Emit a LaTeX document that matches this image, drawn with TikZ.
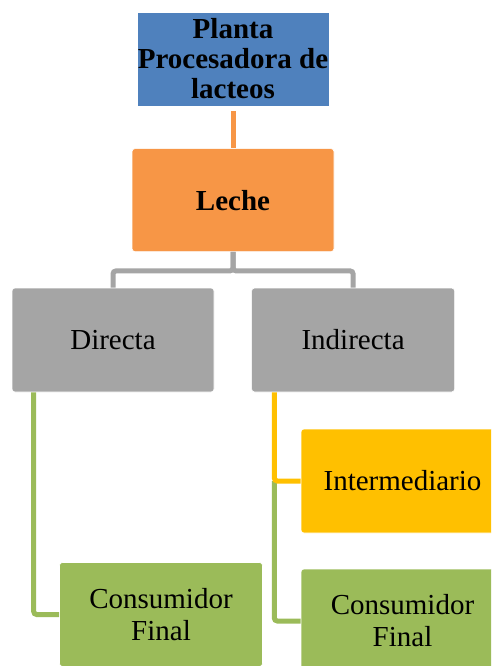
\documentclass[tikz,border=0pt]{standalone}
\usepackage{fontspec}
\setmainfont{Liberation Serif}
\usetikzlibrary{positioning}
\definecolor{azul}{HTML}{4F81BD}
\definecolor{naranja}{HTML}{F79646}
\definecolor{gris}{HTML}{A5A5A5}
\definecolor{amarillo}{HTML}{FFC000}
\definecolor{verde}{HTML}{9BBB59}

\begin{document}
\begin{tikzpicture}[x=1pt, y=1pt, node distance=42pt,
	caja/.style = {draw=white, line width=0.6pt, rounded corners=3pt, inner sep=0pt, align=center, minimum width=203pt, minimum height=104pt, font=\fontsize{29}{32}\selectfont},
	linea/.style = {line width=5pt, rounded corners=3pt}]
	\useasboundingbox (0,0) rectangle (491,-666);
	\clip (0,0) rectangle (491,-666);
	\node[caja, fill=azul, minimum width=192pt, minimum height=94pt, rounded corners=0pt, font=\fontsize{29}{30}\selectfont\bfseries] (planta) at (233,-59) {Planta\\Procesadora de\\lacteos};
	\node[caja, fill=naranja, minimum width=202pt, minimum height=103pt, font=\fontsize{29}{32}\selectfont\bfseries] (leche) [below=of planta] {Leche};
	\node[caja, fill=gris, minimum width=202pt] (directa) at (113,-340) {Directa};
	\node[caja, fill=gris] (indirecta) [right=37pt of directa] {Indirecta};
	\node[caja, fill=amarillo] (inter) at (402.5,-481) {Intermediario};
	\node[caja, fill=verde] (consA) at (161,-614.5) {Consumidor\\Final};
	\node[caja, fill=verde] (consB) at (402.5,-621) {Consumidor\\Final};
	\coordinate (bajaA) at ([xshift=22pt]directa.south west);
	\coordinate (bajaB) at ([xshift=23pt]indirecta.south west);
	\draw[linea, naranja, shorten <=5pt] (planta) -- (leche);
	\draw[linea, gris] (leche.south) -- ++(0,-19) -| (directa.north);
	\draw[linea, gris] (leche.south) -- ++(0,-19) -| (indirecta.north);
	\draw[linea, verde] (bajaA) |- (consA.west);
	\draw[linea, verde] (bajaB |- inter.west) |- (consB.west);
	\draw[linea, amarillo] (bajaB) |- (inter.west);
\end{tikzpicture}
\end{document}
